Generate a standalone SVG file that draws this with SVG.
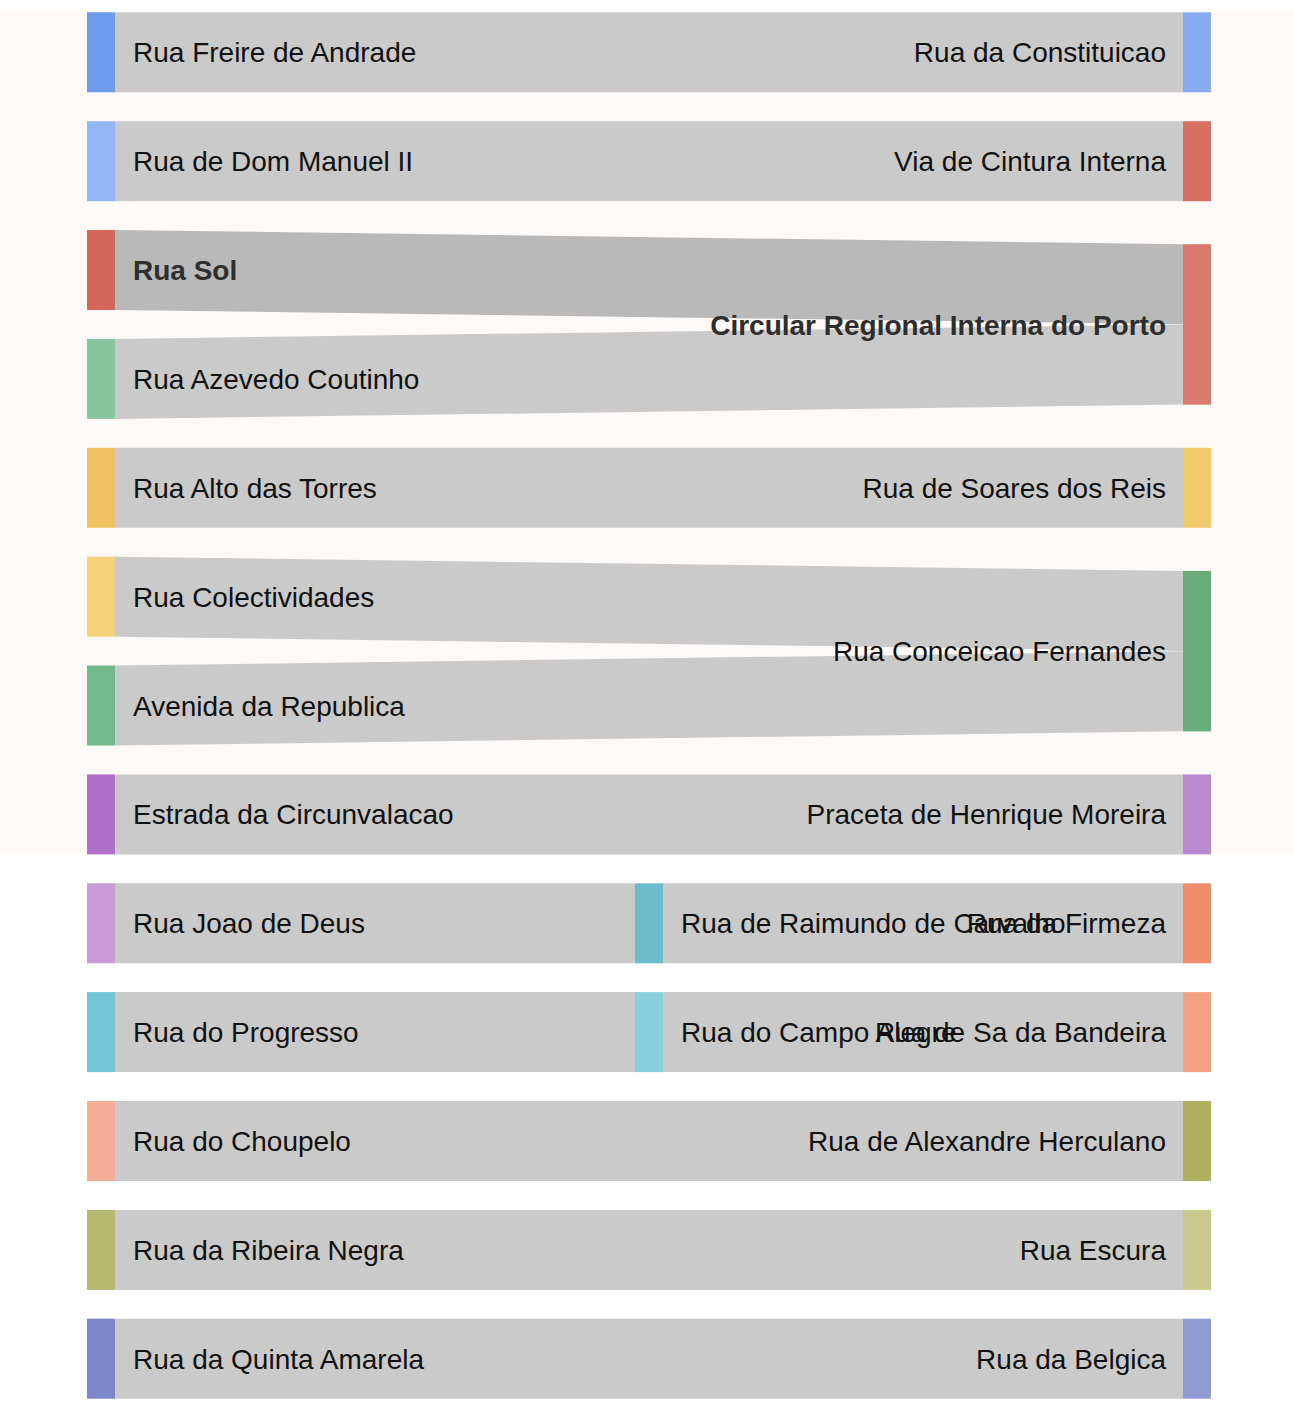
<svg xmlns="http://www.w3.org/2000/svg" width="1294" height="1420" viewBox="0 0 1294 1420">
<style>
text{font-family:"Liberation Sans",Arial,Helvetica,sans-serif;font-size:28px;fill:#111}
.r{text-anchor:end}
.b{font-weight:bold;fill:#2e2e2e}
.lk{fill:#cbcaca}
.hl{fill:#b9b9b9}
</style>
<rect x="0" y="0" width="1294" height="1420" fill="#ffffff"/>
<rect x="0" y="12" width="1294" height="841" fill="#fdf9f7"/>
<g id="links">
<polygon class="lk" points="115,12.3 1183,12.3 1183,92.3 115,92.3"/>
<polygon class="lk" points="115,121.2 1183,121.2 1183,201.2 115,201.2"/>
<polygon class="hl" points="115,230 1183,244.2 1183,324.2 115,310"/>
<polygon class="lk" points="115,338.9 1183,324.6 1183,404.6 115,418.9"/>
<polygon class="lk" points="115,447.8 1183,447.8 1183,527.8 115,527.8"/>
<polygon class="lk" points="115,556.7 1183,570.9 1183,650.9 115,636.7"/>
<polygon class="lk" points="115,665.5 1183,651.3 1183,731.3 115,745.5"/>
<polygon class="lk" points="115,774.4 1183,774.4 1183,854.4 115,854.4"/>
<polygon class="lk" points="115,883.3 635,883.3 635,963.3 115,963.3"/>
<polygon class="lk" points="663,883.3 1183,883.3 1183,963.3 663,963.3"/>
<polygon class="lk" points="115,992.1 635,992.1 635,1072.1 115,1072.1"/>
<polygon class="lk" points="663,992.1 1183,992.1 1183,1072.1 663,1072.1"/>
<polygon class="lk" points="115,1101 1183,1101 1183,1181 115,1181"/>
<polygon class="lk" points="115,1209.9 1183,1209.9 1183,1289.9 115,1289.9"/>
<polygon class="lk" points="115,1318.7 1183,1318.7 1183,1398.7 115,1398.7"/>
</g>
<g id="n-freire"><rect x="87" y="12.3" width="28" height="80" fill="#6b9bea"/><text x="133" y="62.3">Rua Freire de Andrade</text></g>
<g id="n-dommanuel"><rect x="87" y="121.2" width="28" height="80" fill="#93b5f3"/><text x="133" y="171.2">Rua de Dom Manuel II</text></g>
<g id="n-sol"><rect x="87" y="230" width="28" height="80" fill="#d5665a"/><text class="b" x="133" y="280">Rua Sol</text></g>
<g id="n-azevedo"><rect x="87" y="338.9" width="28" height="80" fill="#86c69e"/><text x="133" y="388.9">Rua Azevedo Coutinho</text></g>
<g id="n-alto"><rect x="87" y="447.8" width="28" height="80" fill="#efc162"/><text x="133" y="497.8">Rua Alto das Torres</text></g>
<g id="n-colect"><rect x="87" y="556.7" width="28" height="80" fill="#f4d27c"/><text x="133" y="606.7">Rua Colectividades</text></g>
<g id="n-avenida"><rect x="87" y="665.5" width="28" height="80" fill="#72b98b"/><text x="133" y="715.5">Avenida da Republica</text></g>
<g id="n-estrada"><rect x="87" y="774.4" width="28" height="80" fill="#b06fc8"/><text x="133" y="824.4">Estrada da Circunvalacao</text></g>
<g id="n-joao"><rect x="87" y="883.3" width="28" height="80" fill="#c99bd7"/><text x="133" y="933.3">Rua Joao de Deus</text></g>
<g id="n-progresso"><rect x="87" y="992.1" width="28" height="80" fill="#72c6d6"/><text x="133" y="1042.1">Rua do Progresso</text></g>
<g id="n-choupelo"><rect x="87" y="1101" width="28" height="80" fill="#f3ad97"/><text x="133" y="1151">Rua do Choupelo</text></g>
<g id="n-ribeira"><rect x="87" y="1209.9" width="28" height="80" fill="#b9b86f"/><text x="133" y="1259.9">Rua da Ribeira Negra</text></g>
<g id="n-quinta"><rect x="87" y="1318.7" width="28" height="80" fill="#7b86c8"/><text x="133" y="1368.7">Rua da Quinta Amarela</text></g>
<g id="n-raimundo"><rect x="635" y="883.3" width="28" height="80" fill="#6cbccb"/><text x="681" y="933.3">Rua de Raimundo de Carvalho</text></g>
<g id="n-campo"><rect x="635" y="992.1" width="28" height="80" fill="#88d0db"/><text x="681" y="1042.1">Rua do Campo Alegre</text></g>
<g id="n-constituicao"><rect x="1183" y="12.3" width="28" height="80" fill="#88aaf1"/><text class="r" x="1166" y="62.3">Rua da Constituicao</text></g>
<g id="n-cintura"><rect x="1183" y="121.2" width="28" height="80" fill="#d76e62"/><text class="r" x="1166" y="171.2">Via de Cintura Interna</text></g>
<g id="n-circular"><rect x="1183" y="244.2" width="28" height="160.5" fill="#d97a6e"/><text class="r b" x="1166" y="334.5">Circular Regional Interna do Porto</text></g>
<g id="n-soares"><rect x="1183" y="447.8" width="28" height="80" fill="#f2ca6b"/><text class="r" x="1166" y="497.8">Rua de Soares dos Reis</text></g>
<g id="n-conceicao"><rect x="1183" y="570.9" width="28" height="160.5" fill="#68ad7b"/><text class="r" x="1166" y="661.1">Rua Conceicao Fernandes</text></g>
<g id="n-praceta"><rect x="1183" y="774.4" width="28" height="80" fill="#bb88d2"/><text class="r" x="1166" y="824.4">Praceta de Henrique Moreira</text></g>
<g id="n-firmeza"><rect x="1183" y="883.3" width="28" height="80" fill="#f18d6f"/><text class="r" x="1166" y="933.3">Rua da Firmeza</text></g>
<g id="n-bandeira"><rect x="1183" y="992.1" width="28" height="80" fill="#f4a083"/><text class="r" x="1166" y="1042.1">Rua de Sa da Bandeira</text></g>
<g id="n-herculano"><rect x="1183" y="1101" width="28" height="80" fill="#b1b061"/><text class="r" x="1166" y="1151">Rua de Alexandre Herculano</text></g>
<g id="n-escura"><rect x="1183" y="1209.9" width="28" height="80" fill="#c9c98d"/><text class="r" x="1166" y="1259.9">Rua Escura</text></g>
<g id="n-belgica"><rect x="1183" y="1318.7" width="28" height="80" fill="#8f9bd1"/><text class="r" x="1166" y="1368.7">Rua da Belgica</text></g>
</svg>
